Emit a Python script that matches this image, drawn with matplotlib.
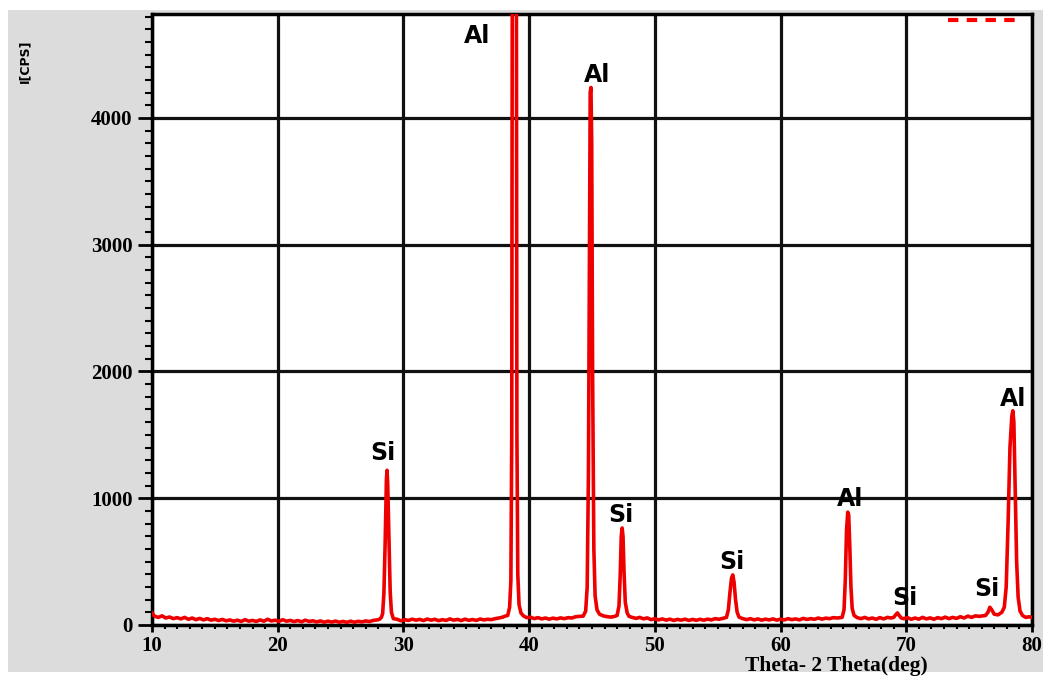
import numpy as np
import matplotlib
matplotlib.use("Agg")
import matplotlib.pyplot as plt
from matplotlib.patches import Rectangle
from matplotlib.ticker import MultipleLocator

# XRD pattern: 2-theta (deg) and intensity (CPS)
two_theta = [
    10.0, 10.2, 10.5, 10.8, 11.1, 11.4, 11.7, 12.0, 12.3, 12.6, 12.9, 13.2, 13.5, 13.8,
    14.1, 14.4, 14.7, 15.0, 15.3, 15.6, 15.9, 16.2, 16.5, 16.8, 17.1, 17.4, 17.7, 18.0,
    18.3, 18.6, 18.9, 19.2, 19.5, 19.8, 20.1, 20.4, 20.7, 21.0, 21.3, 21.6, 21.9, 22.2,
    22.5, 22.8, 23.1, 23.4, 23.7, 24.0, 24.3, 24.6, 24.9, 25.2, 25.5, 25.8, 26.1, 26.4,
    26.7, 27.0, 27.3, 27.6, 27.9, 28.1, 28.25,
    28.35, 28.45, 28.55, 28.65, 28.7, 28.75, 28.85, 28.95, 29.05, 29.2,
    29.5, 29.8, 30.1, 30.4, 30.7, 31.0, 31.3, 31.6, 31.9, 32.2, 32.5, 32.8, 33.1, 33.4,
    33.7, 34.0, 34.3, 34.6, 34.9, 35.2, 35.5, 35.8, 36.1, 36.4, 36.7, 37.0, 37.3, 37.6,
    37.9, 38.1,
    38.3, 38.45, 38.55, 38.62, 38.66, 38.7, 38.95, 38.99, 39.03, 39.1, 39.2, 39.35, 39.55,
    39.8, 40.1, 40.4, 40.7, 41.0, 41.3, 41.6, 41.9, 42.2, 42.5, 42.8, 43.1, 43.4, 43.7,
    44.0,
    44.3, 44.5, 44.62, 44.72, 44.8, 44.86, 44.92, 44.98, 45.05, 45.15, 45.25, 45.4, 45.6,
    45.9, 46.2, 46.5, 46.8,
    47.0, 47.15, 47.25, 47.33, 47.4, 47.47, 47.55, 47.65, 47.8, 47.95,
    48.2, 48.5, 48.8, 49.1, 49.4, 49.7, 50.0, 50.3, 50.6, 50.9, 51.2, 51.5, 51.8, 52.1,
    52.4, 52.7, 53.0, 53.3, 53.6, 53.9, 54.2, 54.5, 54.8, 55.1, 55.4,
    55.7, 55.85, 55.98, 56.1, 56.2, 56.3, 56.42, 56.55, 56.7,
    57.0, 57.3, 57.6, 57.9, 58.2, 58.5, 58.8, 59.1, 59.4, 59.7, 60.0, 60.3, 60.6, 60.9,
    61.2, 61.5, 61.8, 62.1, 62.4, 62.7, 63.0, 63.3, 63.6, 63.9, 64.2, 64.5,
    64.9, 65.05, 65.15, 65.25, 65.35, 65.42, 65.5, 65.6, 65.7, 65.85,
    66.1, 66.4, 66.7, 67.0, 67.3, 67.6, 67.9, 68.2, 68.5, 68.8,
    69.0, 69.2, 69.3, 69.4, 69.6,
    69.8, 70.1, 70.4, 70.7, 71.0, 71.3, 71.6, 71.9, 72.2, 72.5, 72.8, 73.1, 73.4, 73.7,
    74.0, 74.3, 74.6, 74.9, 75.2, 75.5, 75.8, 76.1,
    76.3, 76.5, 76.65, 76.8, 77.0, 77.3, 77.6,
    77.8, 77.95, 78.1, 78.25, 78.4, 78.48, 78.56, 78.66, 78.78, 78.9, 79.05, 79.25, 79.5,
    79.8, 80.0,
]
intensity = [
    95, 70, 60, 72, 55, 63, 50, 58, 48, 60, 45, 55, 42, 52,
    40, 50, 38, 45, 35, 44, 33, 40, 30, 38, 28, 42, 30, 36,
    28, 40, 30, 45, 32, 38, 28, 42, 30, 36, 27, 35, 25, 38,
    28, 33, 24, 32, 22, 30, 23, 31, 22, 28, 21, 30, 22, 29,
    24, 32, 27, 36, 40, 45, 60,
    90, 250, 650, 1150, 1220, 1120, 700, 260, 100, 50,
    45, 33, 42, 36, 46, 38, 44, 35, 47, 38, 45, 34, 42, 36,
    48, 38, 44, 35, 46, 37, 43, 36, 47, 40, 45, 42, 50, 55,
    62, 70,
    75, 140, 350, 1500, 5000, 9000, 9000, 5000, 1500, 400, 160, 95, 72,
    58, 62, 50, 58, 48, 55, 46, 54, 48, 56, 50, 58, 55, 65,
    68,
    70, 110, 300, 1200, 3000, 4200, 4240, 3800, 2000, 600, 230, 120, 85,
    72, 66, 62, 68,
    75, 150, 400, 700, 765, 700, 420, 180, 95, 68,
    60, 52, 60, 48, 56, 42, 50, 40, 48, 38, 46, 36, 44, 38,
    46, 36, 44, 37, 45, 38, 46, 40, 50, 45, 52,
    60, 120, 260, 370, 395, 340, 200, 100, 62,
    50, 42, 50, 40, 48, 38, 46, 40, 48, 38, 46, 40, 50, 42,
    48, 40, 52, 44, 50, 45, 55, 46, 54, 50, 58, 55,
    60, 120, 350, 750, 890, 870, 650, 300, 130, 75,
    58, 50, 60, 48, 55, 45, 58, 48, 60, 55,
    60, 85, 95, 80, 55,
    50, 58, 45, 55, 46, 60, 48, 56, 45, 58, 50, 62, 50, 60,
    52, 65, 55, 70, 60, 72, 68, 72,
    75, 100, 140, 120, 85, 80, 100,
    140, 300, 800, 1400, 1650, 1690, 1600, 1100, 500, 220, 110, 75, 60,
    65, 58,
]

peak_names = ["Si", "Al", "Al", "Si", "Si", "Al", "Si", "Si", "Al"]
label_x = [28.4, 35.9, 45.4, 47.3, 56.1, 65.5, 69.9, 76.4, 78.5]
label_y = [1360, 4650, 4340, 870, 500, 990, 215, 280, 1780]

fig = plt.figure(figsize=(10.48, 6.82), dpi=100, facecolor='white')
fig.patches.append(Rectangle((0.0076, 0.0147), 0.9874, 0.9706, transform=fig.transFigure,
                             facecolor='#dcdcdc', edgecolor='none', zorder=-10))

ax = fig.add_axes([0.145, 0.0836, 0.8397, 0.8959])
ax.set_facecolor('white')

ax.plot(two_theta, intensity, color='#ee0000', lw=2.6, zorder=3)

for name, lx, ly in zip(peak_names, label_x, label_y):
    ax.text(lx, ly, name, ha='center', va='center', fontsize=17,
            fontweight='bold', family='DejaVu Sans', color='black', zorder=4)

# small red dashed marker in the upper right corner
ax.plot([0.905, 0.985], [0.99, 0.99], transform=ax.transAxes, color='red',
        lw=3, ls=(0, (2.5, 2)), clip_on=False, zorder=4)

ax.set_xlim(10, 80)
ax.set_ylim(0, 4820)
ax.xaxis.set_major_locator(MultipleLocator(10))
ax.xaxis.set_minor_locator(MultipleLocator(1))
ax.yaxis.set_major_locator(MultipleLocator(1000))
ax.yaxis.set_minor_locator(MultipleLocator(100))

ax.grid(True, which='major', color='#111111', lw=2.3, zorder=1)
ax.set_axisbelow(True)
for s in ax.spines.values():
    s.set_color('black')
    s.set_linewidth(2.5)

ax.tick_params(axis='y', which='major', length=10, width=2, direction='out', pad=4)
ax.tick_params(axis='y', which='minor', length=5, width=1.5, direction='out')
ax.tick_params(axis='x', which='major', length=5, width=2, direction='out', pad=3)
ax.tick_params(axis='x', which='minor', length=3, width=1.5, direction='out')

for lab in ax.get_xticklabels() + ax.get_yticklabels():
    lab.set_fontfamily('Liberation Serif')
    lab.set_fontweight('bold')
    lab.set_fontsize(15)

fig.text(0.798, 0.024, 'Theta- 2 Theta(deg)', ha='center', va='center',
         fontsize=15.5, fontweight='bold', family='Liberation Serif')
fig.text(0.024, 0.91, 'I[CPS]', ha='center', va='center', rotation=90,
         fontsize=9, fontweight='bold', family='DejaVu Sans')

fig.savefig('out.png', dpi=100, facecolor=fig.get_facecolor())
